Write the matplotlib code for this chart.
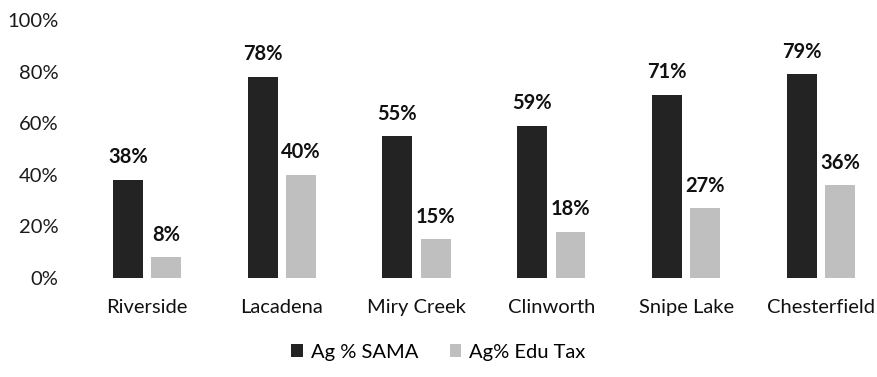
import matplotlib.pyplot as plt
import numpy as np

# Data
towns = ["Riverside", "Lacadena", "Miry Creek", "Clinworth", "Snipe Lake", "Chesterfield"]
ag_sama = [38, 78, 55, 59, 71, 79]
ag_edu_tax = [8, 40, 15, 18, 27, 36]
y_ticks = [0, 20, 40, 60, 80, 100]

plt.rcParams['font.family'] = ['Lato', 'DejaVu Sans']

fig = plt.figure(figsize=(8.77, 3.77), dpi=100)
ax = fig.add_axes([0.106, 0.2626, 0.894, 0.6844])

x = np.arange(len(towns))
w = 0.222
off = 0.142

b1 = ax.bar(x - off, ag_sama, w, color="#232323", label="Ag % SAMA")
b2 = ax.bar(x + off, ag_edu_tax, w, color="#bfbfbf", label="Ag% Edu Tax")

for bars, vals in [(b1, ag_sama), (b2, ag_edu_tax)]:
    for rect, v in zip(bars, vals):
        ax.annotate(f"{v}%", (rect.get_x() + rect.get_width() / 2, v),
                    xytext=(0, 9), textcoords="offset points",
                    ha="center", va="bottom", fontsize=14.5, fontweight="bold",
                    color="#111111")

# group spacing ~135 px, first group centred at ~147 px
ax.set_xlim(-0.40, 5.415)
ax.set_ylim(0, 100)
ax.set_yticks(y_ticks)
ax.set_yticklabels([f"{t}%" for t in y_ticks], fontsize=14.5, color="#1a1a1a")
ax.set_xticks(x)
ax.set_xticklabels(towns, fontsize=14.5, color="#111111")
ax.tick_params(length=0, axis="y", pad=25)
ax.tick_params(length=0, axis="x", pad=15)
for s in ax.spines.values():
    s.set_visible(False)

fig.legend(handles=[b1, b2], loc="center", bbox_to_anchor=(0.5, 0.066), ncol=2,
           frameon=False, fontsize=14.5, handlelength=0.55, handleheight=0.55,
           columnspacing=1.6, handletextpad=0.4)

fig.savefig("out.png", dpi=100)
